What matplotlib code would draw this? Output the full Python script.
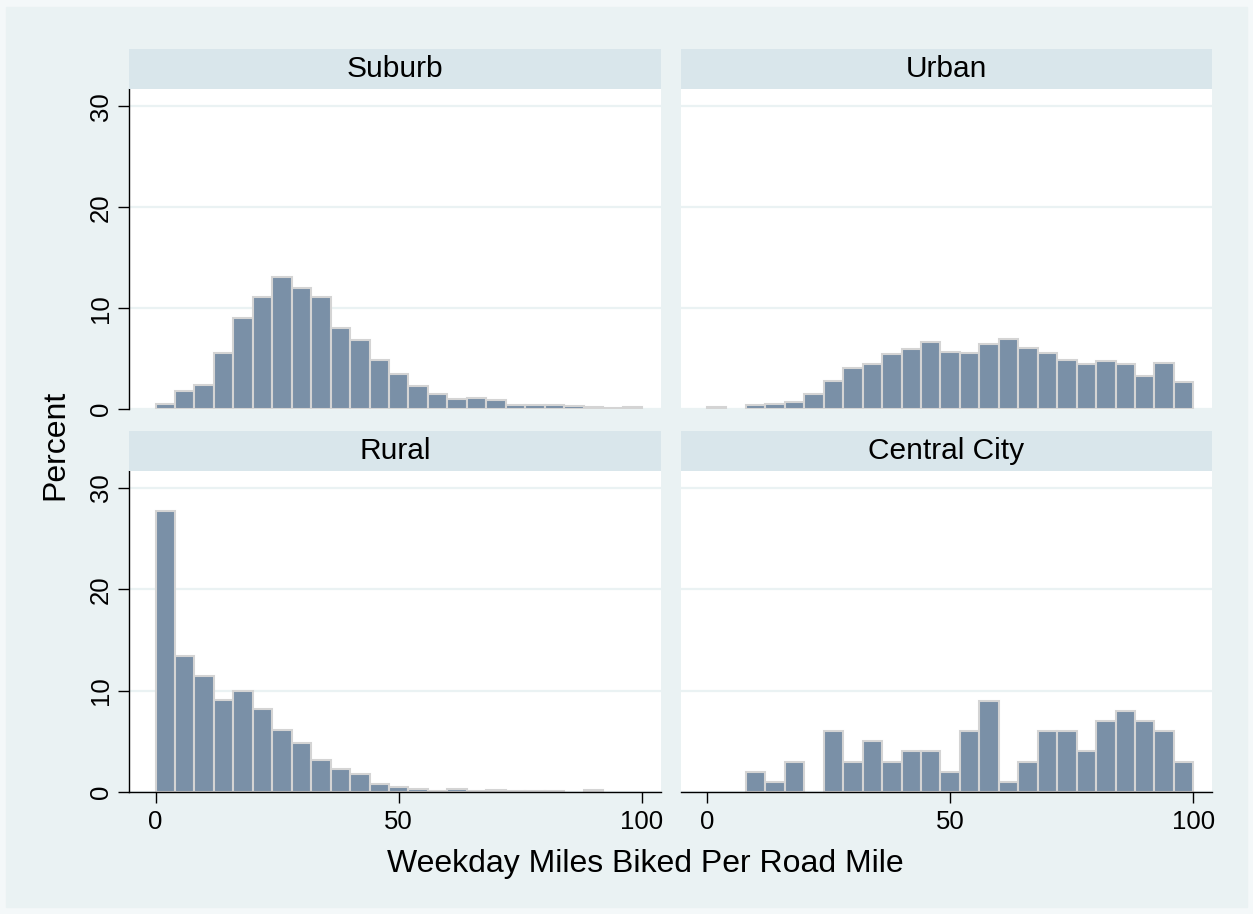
import numpy as np
import matplotlib.pyplot as plt
from matplotlib.patches import Rectangle

plt.rcParams['font.family'] = ['Liberation Sans', 'DejaVu Sans']

# 25 bins of width 4 from 0 to 100, heights in percent
bin_edges = np.arange(0, 104, 4)

suburb = [0.5, 1.8, 2.4, 5.6, 9.0, 11.1, 13.1, 12.0, 11.1, 8.05, 6.9, 4.9, 3.5,
          2.3, 1.55, 1.05, 1.15, 0.95, 0.46, 0.46, 0.46, 0.3, 0.2, 0.1, 0.2]
urban = [0.26, 0, 0.43, 0.56, 0.76, 1.5, 2.8, 4.06, 4.46, 5.5, 6.0, 6.67, 5.7,
         5.6, 6.47, 6.93, 6.07, 5.54, 4.88, 4.52, 4.8, 4.46, 3.3, 4.6, 2.67]
rural = [27.7, 13.4, 11.4, 9.05, 10.0, 8.2, 6.1, 4.8, 3.2, 2.3, 1.77, 0.75, 0.52,
         0.3, 0.1, 0.25, 0.1, 0.2, 0.1, 0.1, 0.1, 0, 0.15, 0, 0]
central_city = [0, 0, 2, 1, 3, 0, 6, 3, 5, 3, 4, 4, 2, 6, 9, 1, 3, 6, 6, 4, 7, 8,
                7, 6, 3]

panels = [("Suburb", suburb), ("Urban", urban),
          ("Rural", rural), ("Central City", central_city)]

W, H = 1253, 914
fig = plt.figure(figsize=(W / 100, H / 100), dpi=100, facecolor='#f4f8f9')
fig.patches.append(Rectangle((6 / W, 7 / H), 1 - 12 / W, 1 - 14 / H,
                             transform=fig.transFigure, color='#eaf2f3', zorder=-1))

bar_color = '#7a90a7'
edge_color = '#d4d4d4'
strip_color = '#d9e6eb'
grid_color = '#eaf2f3'

lefts = [129.3, 680.7]
tops = [(89.3, 409.3, 49.0), (470.7, 792.0, 431.0)]
pw = 531.4

for i, (name, vals) in enumerate(panels):
    row, col = divmod(i, 2)
    x0 = lefts[col]
    ytop, ybot, stop = tops[row]
    ax = fig.add_axes([x0 / W, 1 - ybot / H, pw / W, (ybot - ytop) / H])
    vals = np.array(vals, dtype=float)
    keep = vals > 0
    ax.bar(bin_edges[:-1][keep], vals[keep], width=4, align='edge',
           color=bar_color, edgecolor=edge_color, linewidth=1.5, zorder=2)
    ax.set_xlim(-5.4, 103.85)
    ax.set_ylim(0, 31.7)
    ax.set_yticks([0, 10, 20, 30])
    ax.set_xticks([0, 50, 100])
    ax.grid(axis='y', color=grid_color, linewidth=1.6, zorder=0)
    ax.set_axisbelow(True)
    for s in ['top', 'right']:
        ax.spines[s].set_visible(False)
    ax.spines['left'].set_visible(col == 0)
    ax.spines['bottom'].set_visible(row == 1)
    ax.spines['left'].set_linewidth(1.0)
    ax.spines['bottom'].set_linewidth(1.0)
    ax.tick_params(axis='y', left=(col == 0), labelleft=(col == 0), length=8,
                   width=1.0, labelsize=18.5, pad=4)
    ax.tick_params(axis='x', bottom=(row == 1), labelbottom=(row == 1), length=8,
                   width=1.0, labelsize=18.5, pad=5)
    if col == 0:
        for lab in ax.get_yticklabels():
            lab.set_rotation(90)
            lab.set_va('center')
    # strip header
    sax = fig.add_axes([x0 / W, 1 - ytop / H, pw / W, (ytop - stop) / H])
    sax.set_facecolor(strip_color)
    sax.set_xticks([])
    sax.set_yticks([])
    for s in sax.spines.values():
        s.set_visible(False)
    sax.text(0.5, 0.5, name, ha='center', va='center', fontsize=21.5,
             transform=sax.transAxes)

fig.text(55 / W, 1 - 445 / H, 'Percent', rotation=90, ha='center', va='center',
         fontsize=23)
fig.text(645 / W, 1 - 864 / H, 'Weekday Miles Biked Per Road Mile', ha='center',
         va='center', fontsize=23)

fig.savefig('out.png', dpi=100, facecolor=fig.get_facecolor())
